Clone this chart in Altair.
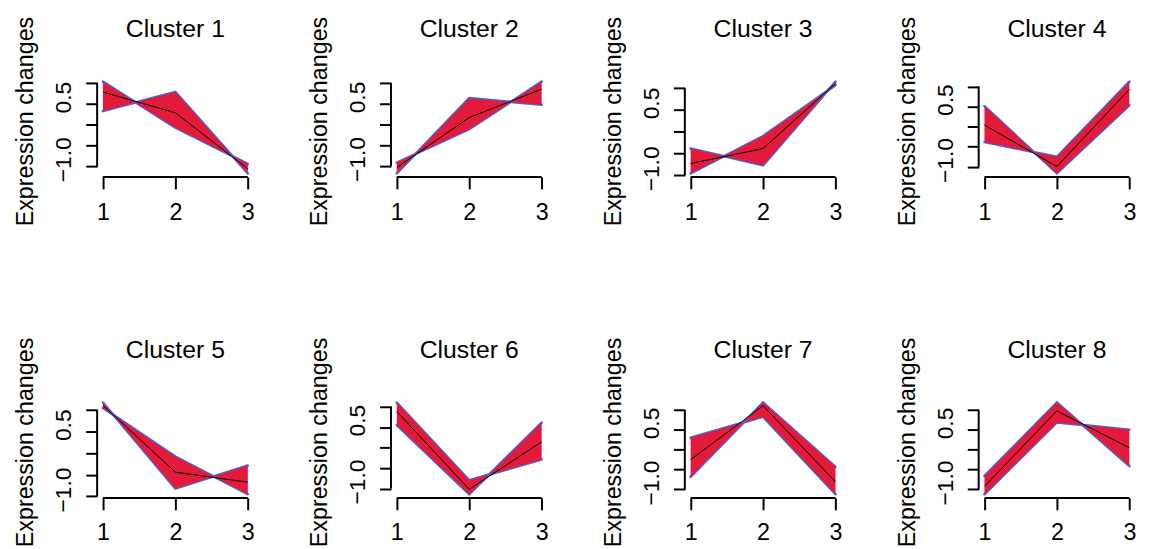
import altair as alt
import pandas as pd

# ---- data (standardised expression, 3 time points) ----
time_points = [1, 2, 3]
cluster_names = ["Cluster 1", "Cluster 2", "Cluster 3", "Cluster 4",
                 "Cluster 5", "Cluster 6", "Cluster 7", "Cluster 8"]

# outermost (lowest-membership) gene profiles bounding each cluster's band
edge_a = [
    [1.04, -0.07, -0.94],
    [-1.18, 0.64, 0.48],
    [-0.385, -0.77, 1.15],
    [0.51, -1.16, 0.53],
    [1.05, -0.08, -0.95],
    [1.10, -0.80, -0.29],
    [0.30, 0.83, -1.12],
    [-0.66, 1.19, -0.41],
]
edge_b = [
    [0.33, 0.79, -1.17],
    [-0.92, -0.11, 1.04],
    [-0.955, -0.10, 1.07],
    [-0.38, -0.75, 1.12],
    [1.175, -0.82, -0.285],
    [0.55, -1.14, 0.61],
    [-0.68, 1.19, -0.43],
    [-1.12, 0.69, 0.505],
]
# cluster centre (black line)
centroid = [
    [0.79, 0.29, -1.06],
    [-1.04, 0.17, 0.86],
    [-0.73, -0.385, 1.11],
    [0.04, -0.99, 0.93],
    [1.11, -0.44, -0.67],
    [0.88, -1.02, 0.14],
    [-0.25, 1.11, -0.81],
    [-0.92, 0.98, 0.05],
]

x_ticks = [1, 2, 3]
y_ticks = [-1.0, -0.5, 0.0, 0.5, 1.0]
y_labelled = [-1.0, 0.5]

FONT = "Liberation Sans"
RED = "#E31A3A"
BLUE = "#4A66D6"
W, H = 158, 100


def panel(i):
    df = pd.DataFrame({"t": time_points, "a": edge_a[i], "b": edge_b[i], "c": centroid[i]})
    vals = edge_a[i] + edge_b[i]
    lo, hi = min(vals), max(vals)
    pad = 0.04 * (hi - lo)
    xs = alt.Scale(domain=[0.92, 3.08], nice=False, zero=False)
    ys = alt.Scale(domain=[lo - pad, hi + pad], nice=False, zero=False)

    xaxis = alt.Axis(values=x_ticks, format="d", title=None, domain=False, grid=False,
                     tickSize=12, tickWidth=2, tickColor="black",
                     labelFontSize=23.5, labelColor="black", labelFont=FONT,
                     labelPadding=30.5, labelBaseline="alphabetic", labelAngle=0,
                     labelFlush=False, labelOverlap=False)
    expr = " || ".join(f"datum.value == {v}" for v in y_labelled)
    yaxis = alt.Axis(values=y_ticks, format=".1f",
                     labelExpr=f"({expr}) ? datum.label : ''",
                     title="Expression changes", domain=False, grid=False,
                     tickSize=11.5, tickWidth=2, tickColor="black",
                     labelFontSize=23, labelColor="black", labelFont=FONT,
                     labelAngle=270, labelAlign="center", labelBaseline="alphabetic",
                     labelPadding=15, labelOffset=-7, labelOverlap=False, labelFlush=False,
                     titleFontSize=23.5, titleFontWeight="normal", titleFont=FONT,
                     titleColor="black", titleAngle=270, titleAlign="center",
                     titleBaseline="alphabetic", titleX=-65, titleY=43.5)

    X = alt.X("t:Q", scale=xs, axis=xaxis)
    base = alt.Chart(df)
    line_a = base.mark_line(color=BLUE, strokeWidth=2.6, strokeCap="round").encode(
        x=X, y=alt.Y("a:Q", scale=ys, axis=yaxis))
    line_b = base.mark_line(color=BLUE, strokeWidth=2.6, strokeCap="round").encode(
        x=X, y=alt.Y("b:Q", scale=ys, axis=yaxis))
    band = base.mark_area(color=RED, opacity=1).encode(
        x=X, y=alt.Y("a:Q", scale=ys, axis=yaxis), y2="b:Q")
    centre = base.mark_line(color="black", strokeWidth=1).encode(
        x=X, y=alt.Y("c:Q", scale=ys, axis=yaxis))

    one = pd.DataFrame({"x0": [x_ticks[0]], "x1": [x_ticks[-1]],
                        "y0": [y_ticks[0]], "y1": [y_ticks[-1]],
                        "label": [cluster_names[i]]})
    yline = alt.Chart(one).mark_rule(color="black", strokeWidth=2).encode(
        x=alt.value(0), y=alt.Y("y0:Q", scale=ys, axis=yaxis), y2="y1:Q")
    xline = alt.Chart(one).mark_rule(color="black", strokeWidth=2).encode(
        x=alt.X("x0:Q", scale=xs, axis=xaxis), x2="x1:Q", y=alt.value(H))
    title = alt.Chart(one).mark_text(font=FONT, fontSize=25, color="black",
                                     align="center", baseline="alphabetic").encode(
        x=alt.value(W / 2), y=alt.value(-41.5), text="label:N")

    return alt.layer(line_a, line_b, band, centre, yline, xline, title).properties(
        width=W, height=H)


row1 = alt.hconcat(*[panel(i) for i in range(4)], spacing=138.7, bounds="flush").resolve_scale(
    x="independent", y="independent")
row2 = alt.hconcat(*[panel(i) for i in range(4, 8)], spacing=138.7, bounds="flush").resolve_scale(
    x="independent", y="independent")

chart = alt.vconcat(row1, row2, spacing=324, bounds="flush").resolve_scale(
    x="independent", y="independent").properties(
    padding={"left": 5, "top": 5, "right": 5, "bottom": 5}
).configure(font=FONT).configure_view(stroke=None)

chart.save("out.html", embed_options={"renderer": "svg", "actions": False})
